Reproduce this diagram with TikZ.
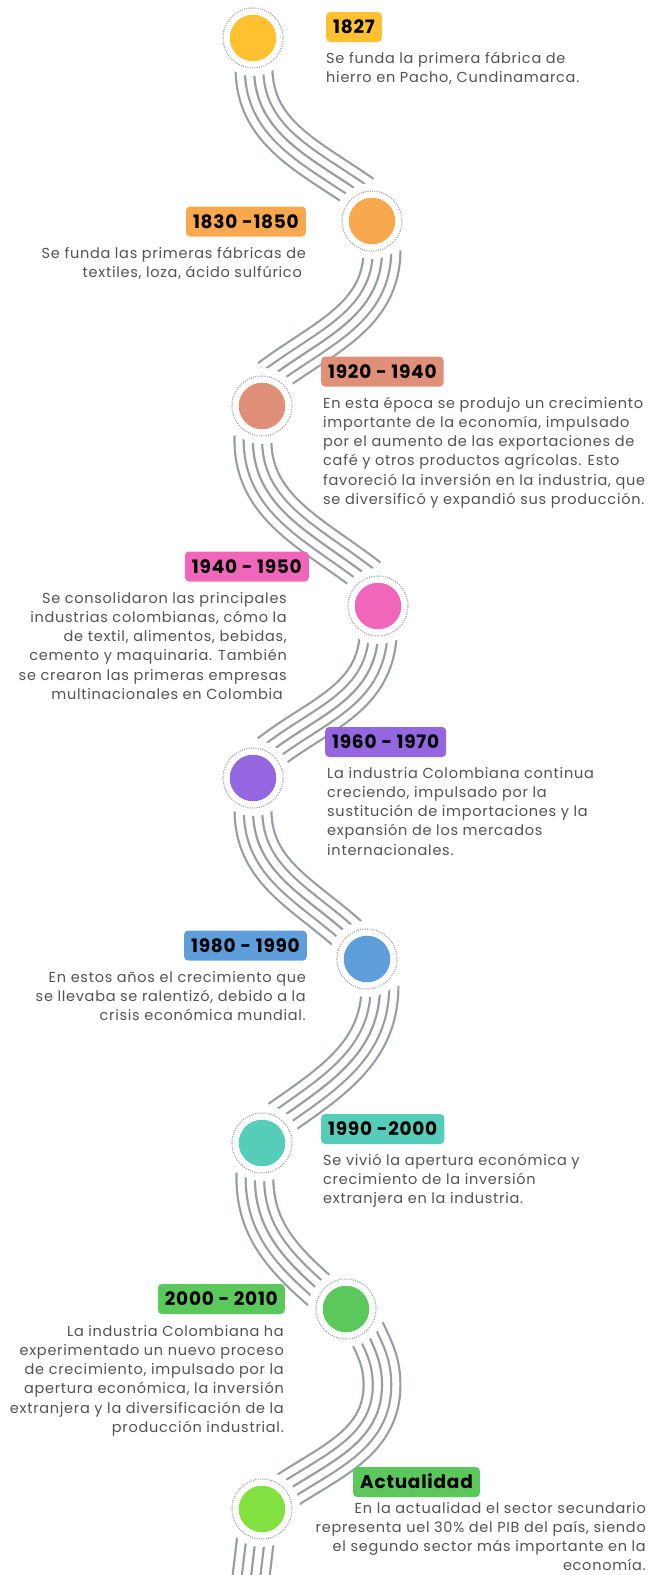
\documentclass[tikz,border=0pt]{standalone}
\usepackage{fontspec}
\setmainfont{Poppins}
\newfontfamily\descfont[LetterSpace=5]{Poppins}
\newfontfamily\lblfont[LetterSpace=4]{Poppins}
\definecolor{wg}{RGB}{150,157,164}
\definecolor{txt}{RGB}{82,82,82}
\definecolor{cA}{RGB}{254,193,47}
\definecolor{cB}{RGB}{249,168,77}
\definecolor{cC}{RGB}{224,143,120}
\definecolor{cD}{RGB}{240,102,186}
\definecolor{cE}{RGB}{148,102,224}
\definecolor{cF}{RGB}{94,159,219}
\definecolor{cG}{RGB}{86,205,184}
\definecolor{cH}{RGB}{91,200,92}
\definecolor{cI}{RGB}{130,225,65}
\newcommand\wave[1]{%
  \foreach \ww/\cc in {39/wg,34.6/white,20.6/wg,16.2/white,2.2/wg}{\draw[line width=\ww pt,\cc] #1;}}
\begin{document}
\begin{tikzpicture}[x=1pt,y=1pt,
  lbl/.style={fill=#1, rounded corners=4pt, text=black, font=\lblfont\bfseries\fontsize{18.5}{20}\selectfont,
    inner xsep=7pt, inner ysep=0pt, minimum height=30pt, text height=13pt, text depth=0pt},
  desc/.style={text=txt, font=\descfont\fontsize{14.5}{19.2}\selectfont, inner sep=0pt},
  ringst/.style={circle, draw=wg, line width=1.1pt, dash pattern=on 1pt off 1.3pt, minimum size=60pt, inner sep=0pt},
  disc/.style={circle, fill=#1, minimum size=46.5pt, inner sep=0pt},
]
\useasboundingbox (0,0) rectangle (648,-1575);
% circle centres
\coordinate (c1) at (253,-38);
\coordinate (c2) at (372,-221);
\coordinate (c3) at (262,-406);
\coordinate (c4) at (378,-606);
\coordinate (c5) at (253,-778);
\coordinate (c6) at (367,-959);
\coordinate (c7) at (262,-1143);
\coordinate (c8) at (346,-1309);
\coordinate (c9) at (262,-1509);
% bundle end points
\coordinate (s1) at (254,-68);   \coordinate (e1) at (363,-194);
\coordinate (s2) at (382,-250);  \coordinate (e2) at (269,-378);
\coordinate (s3) at (253,-436);  \coordinate (e3) at (369,-577);
\coordinate (s4) at (378,-638);  \coordinate (e4) at (269,-753);
\coordinate (s5) at (253,-810);  \coordinate (e5) at (349,-935);
\coordinate (s6) at (380,-986);  \coordinate (e6) at (279,-1119);
\coordinate (s7) at (255,-1173); \coordinate (e7) at (321,-1292);
\coordinate (s8) at (366,-1330); \coordinate (m8) at (382,-1385); \coordinate (e8) at (286,-1491);
\coordinate (s9) at (256,-1535); \coordinate (e9) at (250,-1585);
% bundles
\wave{(s1) to[out=-90,in=145] (e1)}
\wave{(s2) to[out=-90,in=37] (e2)}
\wave{(s3) to[out=-92,in=142] (e3)}
\wave{(s4) to[out=-95,in=38] (e4)}
\wave{(s5) to[out=-90,in=138] (e5)}
\wave{(s6) to[out=-90,in=35] (e6)}
\wave{(s7) to[out=-92,in=139] (e7)}
\wave{(s8) to[out=-65,in=90] (m8) to[out=-90,in=33] (e8)}
\wave{(s9) -- (e9)}
% erase around circles
\foreach \k in {1,...,9}{\fill[white] (c\k) circle (38);}
% circles
\foreach \k/\col in {1/cA,2/cB,3/cC,4/cD,5/cE,6/cF,7/cG,8/cH,9/cI}{
  \node[ringst] (r\k) at (c\k) {};
  \node[disc=\col] (d\k) at (c\k) {};
}
% labels
\node[lbl=cA, anchor=west] (l1) at (326,-27) {1827};
\node[lbl=cB, anchor=east] (l2) at (306,-221.5) {1830 -1850};
\node[lbl=cC, anchor=west] (l3) at (321,-371.5) {1920 - 1940};
\node[lbl=cD, anchor=east] (l4) at (309,-566.5) {1940 - 1950};
\node[lbl=cE, anchor=west] (l5) at (325,-742) {1960 - 1970};
\node[lbl=cF, anchor=east] (l6) at (307,-945.5) {1980 - 1990};
\node[lbl=cG, anchor=west] (l7) at (321,-1129) {1990 -2000};
\node[lbl=cH, anchor=east] (l8) at (285,-1299) {2000 - 2010};
\node[lbl=cH, anchor=west] (l9) at (353,-1482) {Actualidad};
% descriptions
\node[desc, anchor=north west, align=left] (t1) at (326,-49.6)
  {\strut Se funda la primera fábrica de\\hierro en Pacho, Cundinamarca.};
\node[desc, anchor=north east, align=right] (t2) at (306,-244.6)
  {\strut Se funda las primeras fábricas de\\textiles, loza, ácido sulfúrico\hspace*{4pt}};
\node[desc, anchor=north west, align=left] (t3) at (323,-394.6)
  {\strut En esta época se produjo un crecimiento\\importante de la economía, impulsado\\por el aumento de las exportaciones de\\café y otros productos agrícolas. Esto\\favoreció la inversión en la industria, que\\se diversificó y expandió sus producción.};
\node[desc, anchor=north east, align=right] (t4) at (287,-589.6)
  {\strut Se consolidaron las principales\\industrias colombianas, cómo la\\de textil, alimentos, bebidas,\\cemento y maquinaria. También\\se crearon las primeras empresas\\multinacionales en Colombia\hspace*{4pt}};
\node[desc, anchor=north west, align=left] (t5) at (327,-764.6)
  {\strut La industria Colombiana continua\\creciendo, impulsado por la\\sustitución de importaciones y la\\expansión de los mercados\\internacionales.};
\node[desc, anchor=north east, align=right] (t6) at (306,-968.6)
  {\strut En estos años el crecimiento que\\se llevaba se ralentizó, debido a la\\crisis económica mundial.};
\node[desc, anchor=north west, align=left] (t7) at (323,-1151.6)
  {\strut Se vivió la apertura económica y\\crecimiento de la inversión\\extranjera en la industria.};
\node[desc, anchor=north east, align=right] (t8) at (284,-1322.6)
  {\strut La industria Colombiana ha\\experimentado un nuevo proceso\\de crecimiento, impulsado por la\\apertura económica, la inversión\\extranjera y la diversificación de la\\producción industrial.};
\node[desc, anchor=north east, align=right] (t9) at (646,-1499.4)
  {\strut En la actualidad el sector secundario\\representa uel 30\% del PIB del país, siendo\\el segundo sector más importante en la\\economía.};
\end{tikzpicture}
\end{document}
